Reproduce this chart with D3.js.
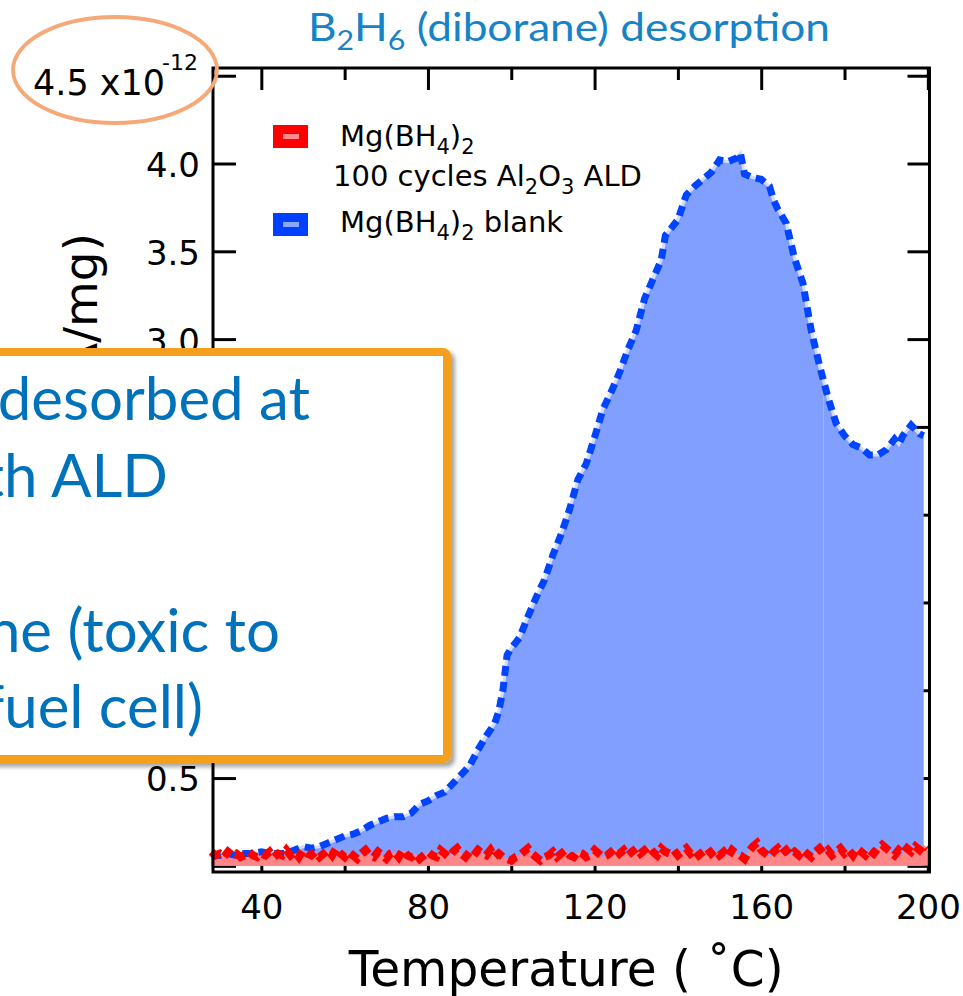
<!DOCTYPE html>
<html>
<head>
<meta charset="utf-8">
<script src="https://cdn.jsdelivr.net/npm/d3@7"></script>
<style>
  html, body { margin: 0; padding: 0; background: #fff; overflow: hidden; }
  svg { display: block; }
</style>
</head>
<body>
<svg id="chart" width="963" height="996"></svg>
<script>
// ---- data: B2H6 signal vs temperature (units of 1e-12 per mg) ----
const blueTemp = [28, 30, 32, 34, 36, 38, 40, 42, 44, 46, 48, 50, 52, 54, 56, 58, 60, 62, 64, 66,
  68, 70, 72, 74, 76, 78, 80, 82, 84, 86, 88, 90, 92, 94, 96, 97, 98, 99, 100, 102,
  104, 106, 108, 110, 112, 114, 116, 118, 120, 122, 124, 126, 128, 130, 132, 134, 136, 137, 138, 140,
  142, 144, 146, 148, 150, 152, 154, 155, 156, 158, 160, 162, 163, 164, 166, 168, 170, 172, 174, 175,
  176, 178, 180, 182, 184, 186, 188, 190, 192, 193, 194, 196, 198, 199];
const blueSignal = [0.07, 0.06, 0.07, 0.06, 0.07, 0.07, 0.08, 0.07, 0.07, 0.07, 0.09, 0.11, 0.10, 0.11, 0.13, 0.15, 0.17, 0.18, 0.20, 0.23,
  0.25, 0.27, 0.28, 0.28, 0.30, 0.35, 0.37, 0.40, 0.42, 0.47, 0.52, 0.57, 0.66, 0.74, 0.81, 0.88, 1.00, 1.20, 1.24, 1.30,
  1.42, 1.53, 1.63, 1.77, 1.89, 2.03, 2.20, 2.29, 2.44, 2.60, 2.70, 2.81, 2.94, 3.05, 3.23, 3.34, 3.45, 3.59, 3.62, 3.68,
  3.82, 3.87, 3.91, 3.95, 4.02, 4.01, 4.03, 4.06, 3.94, 3.92, 3.91, 3.87, 3.79, 3.74, 3.66, 3.46, 3.32, 3.05, 2.85, 2.76,
  2.67, 2.52, 2.45, 2.40, 2.38, 2.34, 2.34, 2.37, 2.43, 2.40, 2.45, 2.51, 2.46, 2.45];

const redTemp = [28, 29, 30, 31, 32, 33, 34, 35, 36, 37, 38, 39, 40, 41, 42, 43, 44, 45, 46, 47,
  48, 49, 50, 51, 52, 53, 54, 55, 56, 57, 58, 59, 60, 61, 62, 63, 64, 65, 66, 67,
  68, 69, 70, 71, 72, 73, 74, 75, 76, 77, 78, 79, 80, 81, 82, 83, 84, 85, 86, 87,
  88, 89, 90, 91, 92, 93, 94, 95, 96, 97, 98, 99, 100, 101, 102, 103, 104, 105, 106, 107,
  108, 109, 110, 111, 112, 113, 114, 115, 116, 117, 118, 119, 120, 121, 122, 123, 124, 125, 126, 127,
  128, 129, 130, 131, 132, 133, 134, 135, 136, 137, 138, 139, 140, 141, 142, 143, 144, 145, 146, 147,
  148, 149, 150, 151, 152, 153, 154, 155, 156, 157, 158, 159, 160, 161, 162, 163, 164, 165, 166, 167,
  168, 169, 170, 171, 172, 173, 174, 175, 176, 177, 178, 179, 180, 181, 182, 183, 184, 185, 186, 187,
  188, 189, 190, 191, 192, 193, 194, 195, 196, 197, 198, 199, 200];
const redSignal = [0.08, 0.06, 0.07, 0.05, 0.08, 0.06, 0.07, 0.05, 0.06, 0.08,
  0.06, 0.05, 0.07, 0.06, 0.08, 0.05, 0.07, 0.06, 0.09, 0.06,
  0.08, 0.05, 0.09, 0.07, 0.06, 0.08, 0.05, 0.07, 0.09, 0.06,
  0.10, 0.07, 0.05, 0.08, 0.06, 0.04, 0.07, 0.09, 0.06, 0.05,
  0.08, 0.06, 0.04, 0.07, 0.08, 0.05, 0.09, 0.06, 0.05, 0.07,
  0.04, 0.06, 0.08, 0.06, 0.05, 0.09, 0.07, 0.05, 0.08, 0.10,
  0.07, 0.05, 0.08, 0.06, 0.09, 0.07, 0.06, 0.09, 0.05, 0.07,
  0.05, 0.04, 0.03, 0.05, 0.06, 0.08, 0.10, 0.07, 0.05, 0.03,
  0.05, 0.06, 0.08, 0.05, 0.07, 0.09, 0.06, 0.05, 0.08, 0.07,
  0.05, 0.06, 0.09, 0.07, 0.05, 0.06, 0.08, 0.10, 0.07, 0.09,
  0.06, 0.08, 0.10, 0.07, 0.09, 0.11, 0.08, 0.06, 0.10, 0.08,
  0.07, 0.09, 0.06, 0.08, 0.10, 0.07, 0.09, 0.06, 0.08, 0.10,
  0.07, 0.09, 0.06, 0.08, 0.05, 0.09, 0.07, 0.06, 0.04, 0.08,
  0.11, 0.13, 0.09, 0.07, 0.05, 0.08, 0.10, 0.07, 0.09, 0.06,
  0.08, 0.06, 0.09, 0.07, 0.05, 0.08, 0.10, 0.07, 0.09, 0.06,
  0.08, 0.10, 0.07, 0.09, 0.06, 0.10, 0.08, 0.06, 0.09, 0.07,
  0.10, 0.12, 0.10, 0.08, 0.06, 0.09, 0.07, 0.10, 0.08, 0.11,
  0.09, 0.12, 0.10];

// temperature where the blank trace was stitched from two acquisitions
const blueStitchTemp = 175;

const xTicksMajor = [40, 80, 120, 160, 200];
const xTicksMinor = [60, 100, 140, 180];
const yTicks = [0, 0.5, 1.0, 1.5, 2.0, 2.5, 3.0, 3.5, 4.0, 4.5];
// labels under the callout box are left blank; the top value carries the scale factor note
const yTickLabels = ["", "0.5", "", "", "", "", "3.0", "3.5", "4.0", ""];

// ---- layout ----
const svg = d3.select("#chart");
const x = d3.scaleLinear().domain([28.4, 200.4]).range([213, 929.5]);
const y = d3.scaleLinear().domain([-0.035, 4.544]).range([872, 68]);

const blue = blueTemp.map((t, i) => ({ t, v: blueSignal[i] }));
const red = redTemp.map((t, i) => ({ t, v: redSignal[i] }));

const defs = svg.append("defs");
const shadow = defs.append("filter").attr("id", "boxShadow")
  .attr("x", "-10%").attr("y", "-10%").attr("width", "130%").attr("height", "130%");
shadow.append("feDropShadow").attr("dx", 4).attr("dy", 4).attr("stdDeviation", 2.2)
  .attr("flood-color", "#000").attr("flood-opacity", 0.35);

const tickFont = "DejaVu Sans, Verdana, sans-serif";

// ---- axes (inward ticks on all four sides) ----
function styleAxis(g) {
  g.select(".domain").remove();
  g.selectAll(".tick line").attr("stroke", "#000").attr("stroke-width", 3);
  g.selectAll(".tick text").attr("fill", "#000").style("font-family", tickFont).style("font-size", "34px");
}

svg.append("g").attr("transform", `translate(0,${y.range()[0]})`)
  .call(d3.axisBottom(x).tickValues(xTicksMajor).tickSize(-22).tickPadding(23).tickFormat(d3.format("d")))
  .call(styleAxis);
svg.append("g").attr("transform", `translate(0,${y.range()[0]})`)
  .call(d3.axisBottom(x).tickValues(xTicksMinor).tickSize(-12).tickFormat(""))
  .call(styleAxis);
svg.append("g").attr("transform", `translate(0,${y.range()[1]})`)
  .call(d3.axisTop(x).tickValues(xTicksMajor).tickSize(-22).tickFormat(""))
  .call(styleAxis);
svg.append("g").attr("transform", `translate(0,${y.range()[1]})`)
  .call(d3.axisTop(x).tickValues(xTicksMinor).tickSize(-12).tickFormat(""))
  .call(styleAxis);
const leftAxis = svg.append("g").attr("transform", `translate(${x.range()[0]},0)`)
  .call(d3.axisLeft(y).tickValues(yTicks).tickSize(-23).tickPadding(13)
    .tickFormat((d, i) => yTickLabels[i]))
  .call(styleAxis);
leftAxis.selectAll(".tick text").attr("dy", "0.38em");
svg.append("g").attr("transform", `translate(${x.range()[1]},0)`)
  .call(d3.axisRight(y).tickValues(yTicks).tickSize(-22).tickFormat(""))
  .call(styleAxis);

// ---- filled traces ----
const area = d3.area().x(d => x(d.t)).y0(y(0)).y1(d => y(d.v));
const line = d3.line().x(d => x(d.t)).y(d => y(d.v));

const plot = svg.append("g");
plot.append("path").datum(blue.filter(d => d.t <= blueStitchTemp))
  .attr("d", area).attr("fill", "#809FFF");
plot.append("path").datum(blue.filter(d => d.t >= blueStitchTemp))
  .attr("d", area).attr("fill", "#809FFF");
plot.append("path").datum(red).attr("d", area).attr("fill", "#FF8686");

plot.append("path").datum(blue).attr("d", line)
  .attr("fill", "none").attr("stroke", "#D5DBF2").attr("stroke-width", 3);
plot.append("path").datum(blue).attr("d", line)
  .attr("fill", "none").attr("stroke", "#0044FF").attr("stroke-width", 7)
  .attr("stroke-dasharray", "10,6");
plot.append("path").datum(red).attr("d", line)
  .attr("fill", "none").attr("stroke", "#FF0000").attr("stroke-width", 8)
  .attr("stroke-dasharray", "10,6");

// ---- frame ----
svg.append("rect")
  .attr("x", x.range()[0]).attr("y", y.range()[1])
  .attr("width", x.range()[1] - x.range()[0]).attr("height", y.range()[0] - y.range()[1])
  .attr("fill", "none").attr("stroke", "#000").attr("stroke-width", 3);

// ---- legend ----
const legend = svg.append("g").style("font-family", tickFont).style("font-size", "29px").attr("fill", "#000");
const legendItems = [
  { fill: "#FF0000", inner: "#FF8C8C", top: 125 },
  { fill: "#0040FF", inner: "#8CA6FF", top: 213 }
];
legendItems.forEach(it => {
  legend.append("rect").attr("x", 273).attr("y", it.top).attr("width", 35).attr("height", 23).attr("fill", it.fill);
  legend.append("rect").attr("x", 283).attr("y", it.top + 9).attr("width", 16).attr("height", 5).attr("fill", it.inner);
});
// writes Mg(BH4)2; optional trailing text goes back on the baseline
function mgbh4(t, after) {
  t.append("tspan").text("Mg(BH");
  t.append("tspan").attr("dy", 8).attr("font-size", "21px").text("4");
  t.append("tspan").attr("dy", -8).text(")");
  t.append("tspan").attr("dy", 8).attr("font-size", "21px").text("2");
  if (after) t.append("tspan").attr("dy", -8).text(after);
}
mgbh4(legend.append("text").attr("x", 340).attr("y", 146));
const l2 = legend.append("text").attr("x", 333).attr("y", 186);
l2.append("tspan").text("100 cycles Al");
l2.append("tspan").attr("dy", 8).attr("font-size", "21px").text("2");
l2.append("tspan").attr("dy", -8).text("O");
l2.append("tspan").attr("dy", 8).attr("font-size", "21px").text("3");
l2.append("tspan").attr("dy", -8).text(" ALD");
mgbh4(legend.append("text").attr("x", 340).attr("y", 232), " blank");

// ---- axis titles ----
svg.append("text")
  .attr("x", (x.range()[0] + x.range()[1]) / 2 - 5).attr("y", 986)
  .attr("text-anchor", "middle")
  .attr("textLength", 435).attr("lengthAdjust", "spacingAndGlyphs")
  .style("font-family", tickFont).style("font-size", "49px").attr("fill", "#000")
  .text("Temperature ( ˚C)");

svg.append("text")
  .attr("transform", "translate(97,233) rotate(-90)")
  .attr("text-anchor", "end")
  .style("font-family", tickFont).style("font-size", "47px").attr("fill", "#000")
  .text("Ion current (A/mg)");

// ---- title ----
const title = svg.append("text")
  .attr("x", 569).attr("y", 41).attr("text-anchor", "middle")
  .attr("textLength", 522).attr("lengthAdjust", "spacingAndGlyphs")
  .style("font-family", "Lato, 'Open Sans', sans-serif").style("font-size", "38px").attr("fill", "#1783C6");
title.append("tspan").text("B");
title.append("tspan").attr("dy", 9).attr("font-size", "26px").text("2");
title.append("tspan").attr("dy", -9).text("H");
title.append("tspan").attr("dy", 9).attr("font-size", "26px").text("6");
title.append("tspan").attr("dy", -9).text(" (diborane) desorption");

// ---- callout box ----
const box = svg.append("g");
box.append("rect")
  .attr("x", -40).attr("y", 352).attr("width", 487).attr("height", 407)
  .attr("rx", 4).attr("fill", "#fff").attr("stroke", "#F5A01E").attr("stroke-width", 8)
  .attr("filter", "url(#boxShadow)");
const boxLines = [
  { text: "• Much less B₂H₆ desorbed at", end: 310, base: 420 },
  { text: "low temperature with ALD", end: 168, base: 497 },
  { text: "• Suppresses diborane (toxic to", end: 280, base: 652 },
  { text: "the PEM fuel cell)", end: 203, base: 728 }
];
box.selectAll("text.callout").data(boxLines).join("text")
  .attr("class", "callout")
  .attr("x", d => d.end).attr("y", d => d.base)
  .attr("text-anchor", "end")
  .style("font-family", "Lato, 'Open Sans', sans-serif").style("font-size", "60px")
  .attr("fill", "#0072BC")
  .text(d => d.text);

// ---- scale factor note with highlight ellipse ----
const sf = svg.append("text").attr("x", 33).attr("y", 95)
  .style("font-family", tickFont).style("font-size", "35px").attr("fill", "#000");
sf.append("tspan").text("4.5 x10");
sf.append("tspan").attr("x", 162).attr("y", 70).style("font-size", "22px").text("-12");

svg.append("ellipse")
  .attr("cx", 115).attr("cy", 70).attr("rx", 102).attr("ry", 53)
  .attr("fill", "none").attr("stroke", "#F5A878").attr("stroke-width", 3.8);
</script>
</body>
</html>
